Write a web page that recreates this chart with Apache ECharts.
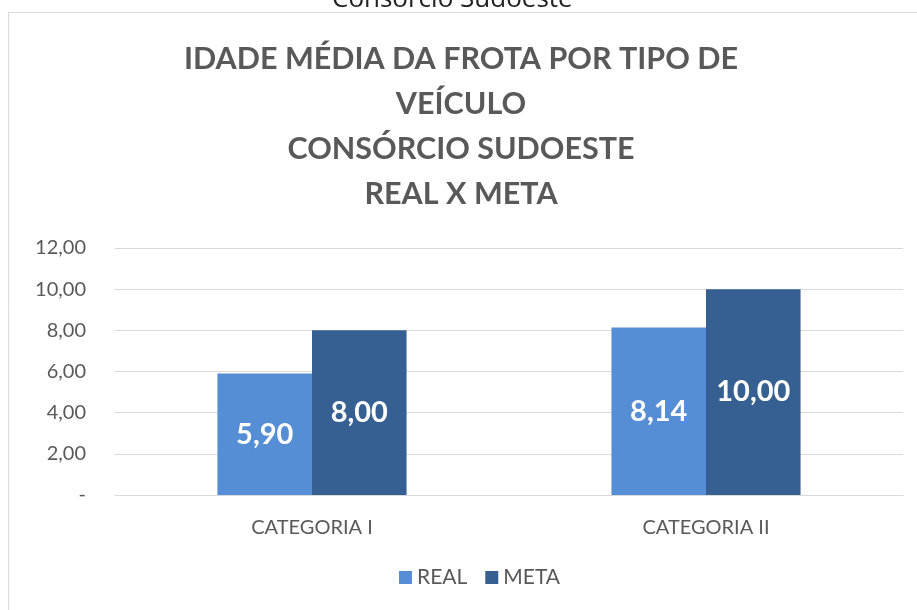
<!DOCTYPE html>
<html>
<head>
<meta charset="utf-8">
<script src="https://cdn.jsdelivr.net/npm/echarts@6/dist/echarts.min.js"></script>
<style>
  html, body { margin: 0; padding: 0; background: #fff; }
  #chart { width: 917px; height: 610px; }
</style>
</head>
<body>
<div id="chart"></div>
<script>
const categories = ['CATEGORIA I', 'CATEGORIA II'];
const realValues = [5.90, 8.14];
const metaValues = [8.00, 10.00];
const yTicks = { min: 0, max: 12, interval: 2 };

const fmt = v => v.toFixed(2).replace('.', ',');

const chart = echarts.init(document.getElementById('chart'));

const labelStyle = {
    show: true,
    position: 'inside',
    color: '#fff',
    fontFamily: 'Lato',
    fontWeight: 'bold',
    fontSize: 29,
    formatter: p => fmt(p.value)
};

chart.setOption({
    animation: false,
    textStyle: { fontFamily: 'Lato' },
    graphic: [
        {
            type: 'rect',
            shape: { x: 8.5, y: 12.5, width: 1000, height: 700 },
            style: { fill: 'none', stroke: '#d9d9d9', lineWidth: 1 }
        },
        {
            type: 'text',
            left: 332,
            top: -13,
            style: { text: 'Consórcio Sudoeste', font: '26px "Open Sans"', fill: '#222' }
        }
    ],
    title: {
        text: 'IDADE MÉDIA DA FROTA POR TIPO DE\nVEÍCULO\nCONSÓRCIO SUDOESTE\nREAL X META',
        left: 456,
        textAlign: 'center',
        top: 32,
        textStyle: {
            fontFamily: 'Lato',
            fontWeight: 'bold',
            fontSize: 30.5,
            lineHeight: 45,
            color: '#595959'
        }
    },
    legend: {
        bottom: 17,
        left: 394,
        itemWidth: 13,
        itemHeight: 13,
        itemGap: 18,
        icon: 'rect',
        textStyle: { fontFamily: 'Lato', fontSize: 21, color: '#595959' },
        data: ['REAL', 'META']
    },
    grid: { left: 115, right: 14, top: 248, bottom: 115 },
    xAxis: {
        type: 'category',
        data: categories,
        axisTick: { show: false },
        axisLine: { lineStyle: { color: '#d9d9d9', width: 1 } },
        axisLabel: { fontFamily: 'Lato', fontSize: 20, color: '#595959', margin: 23 }
    },
    yAxis: {
        type: 'value',
        min: yTicks.min,
        max: yTicks.max,
        interval: yTicks.interval,
        axisLine: { show: false },
        axisTick: { show: false },
        splitLine: { lineStyle: { color: '#d9d9d9', width: 1 } },
        axisLabel: {
            fontFamily: 'Lato',
            fontSize: 20,
            color: '#595959',
            margin: 29,
            formatter: v => (v === 0 ? '-' : fmt(v))
        }
    },
    series: [
        {
            name: 'REAL',
            type: 'bar',
            data: realValues,
            barWidth: '24%',
            barGap: '0%',
            itemStyle: { color: '#558ed5' },
            label: labelStyle
        },
        {
            name: 'META',
            type: 'bar',
            data: metaValues,
            barWidth: '24%',
            itemStyle: { color: '#376092' },
            label: labelStyle
        }
    ]
});
</script>
</body>
</html>
